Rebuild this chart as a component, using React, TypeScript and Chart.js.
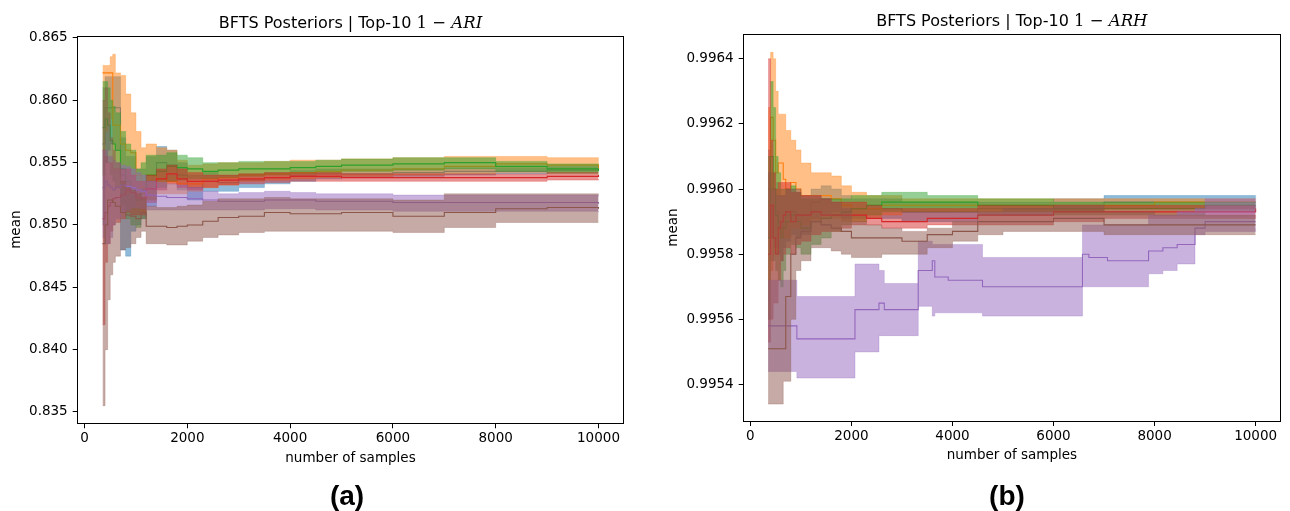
import React, { useEffect, useRef } from "react";
import { Chart, registerables } from "chart.js";
Chart.register(...registerables);

// ---------- Panel (a): 1 - ARI ----------
const SAMPLES_A = [350, 400, 450, 500, 550, 600, 700, 800, 900, 1000, 1100, 1200, 1400, 1600, 1800, 2000, 2300, 2600, 3000, 3500, 4000, 4500, 5000, 6000, 7000, 8000, 9000, 10000];

const A_BLUE_MEAN = [0.8565, 0.8594, 0.8594, 0.8594, 0.8594, 0.8594, 0.8540, 0.8525, 0.8530, 0.8520, 0.8525, 0.8535, 0.8550, 0.8548, 0.8540, 0.8530, 0.8535, 0.8534, 0.8536, 0.8538, 0.8540, 0.8541, 0.8541, 0.8542, 0.8543, 0.8543, 0.8544, 0.8544];
const A_BLUE_HI = [0.8610, 0.8619, 0.8619, 0.8619, 0.8619, 0.8619, 0.8570, 0.8555, 0.8555, 0.8545, 0.8545, 0.8555, 0.8563, 0.8560, 0.8550, 0.8540, 0.8542, 0.8540, 0.8541, 0.8542, 0.8544, 0.8545, 0.8545, 0.8545, 0.8546, 0.8546, 0.8547, 0.8547];
const A_BLUE_LO = [0.8500, 0.8550, 0.8560, 0.8565, 0.8565, 0.8560, 0.8480, 0.8475, 0.8495, 0.8500, 0.8505, 0.8515, 0.8535, 0.8535, 0.8528, 0.8520, 0.8527, 0.8527, 0.8530, 0.8533, 0.8535, 0.8537, 0.8538, 0.8539, 0.8540, 0.8541, 0.8542, 0.8542];

const A_ORANGE_MEAN = [0.8622, 0.8622, 0.8622, 0.8622, 0.8580, 0.8580, 0.8565, 0.8560, 0.8558, 0.8540, 0.8530, 0.8540, 0.8537, 0.8535, 0.8533, 0.8533, 0.8537, 0.8538, 0.8540, 0.8541, 0.8542, 0.8543, 0.8544, 0.8545, 0.8547, 0.8549, 0.8548, 0.8545];
const A_ORANGE_HI = [0.8628, 0.8628, 0.8628, 0.8635, 0.8637, 0.8622, 0.8620, 0.8605, 0.8590, 0.8575, 0.8562, 0.8565, 0.8562, 0.8560, 0.8552, 0.8548, 0.8549, 0.8550, 0.8550, 0.8551, 0.8552, 0.8552, 0.8553, 0.8554, 0.8555, 0.8555, 0.8554, 0.8547];
const A_ORANGE_LO = [0.8560, 0.8575, 0.8580, 0.8585, 0.8545, 0.8545, 0.8530, 0.8525, 0.8530, 0.8515, 0.8510, 0.8520, 0.8525, 0.8525, 0.8525, 0.8527, 0.8530, 0.8532, 0.8535, 0.8536, 0.8537, 0.8538, 0.8539, 0.8540, 0.8541, 0.8542, 0.8542, 0.8542];

const A_GREEN_MEAN = [0.8578, 0.8585, 0.8580, 0.8568, 0.8565, 0.8560, 0.8545, 0.8535, 0.8530, 0.8520, 0.8528, 0.8540, 0.8543, 0.8547, 0.8546, 0.8545, 0.8543, 0.8544, 0.8545, 0.8545, 0.8546, 0.8547, 0.8548, 0.8549, 0.8550, 0.8547, 0.8545, 0.8543];
const A_GREEN_HI = [0.8615, 0.8615, 0.8610, 0.8600, 0.8595, 0.8590, 0.8575, 0.8565, 0.8560, 0.8545, 0.8550, 0.8556, 0.8556, 0.8558, 0.8556, 0.8554, 0.8550, 0.8550, 0.8551, 0.8551, 0.8551, 0.8552, 0.8553, 0.8554, 0.8554, 0.8551, 0.8549, 0.8546];
const A_GREEN_LO = [0.8540, 0.8550, 0.8550, 0.8540, 0.8535, 0.8530, 0.8515, 0.8505, 0.8500, 0.8498, 0.8505, 0.8520, 0.8530, 0.8535, 0.8536, 0.8537, 0.8537, 0.8538, 0.8539, 0.8540, 0.8541, 0.8542, 0.8543, 0.8544, 0.8545, 0.8543, 0.8541, 0.8540];

const A_RED_MEAN = [0.8505, 0.8510, 0.8515, 0.8518, 0.8521, 0.8522, 0.8524, 0.8528, 0.8526, 0.8522, 0.8521, 0.8529, 0.8537, 0.8541, 0.8537, 0.8535, 0.8535, 0.8536, 0.8537, 0.8538, 0.8539, 0.8539, 0.8538, 0.8538, 0.8538, 0.8538, 0.8539, 0.8540];
const A_RED_HI = [0.8560, 0.8555, 0.8550, 0.8550, 0.8545, 0.8545, 0.8545, 0.8545, 0.8540, 0.8535, 0.8535, 0.8540, 0.8545, 0.8548, 0.8545, 0.8542, 0.8540, 0.8540, 0.8541, 0.8542, 0.8542, 0.8542, 0.8541, 0.8541, 0.8541, 0.8541, 0.8542, 0.8542];
const A_RED_LO = [0.8420, 0.8470, 0.8485, 0.8495, 0.8500, 0.8502, 0.8505, 0.8510, 0.8508, 0.8508, 0.8508, 0.8518, 0.8528, 0.8533, 0.8530, 0.8528, 0.8530, 0.8532, 0.8533, 0.8534, 0.8535, 0.8535, 0.8535, 0.8535, 0.8535, 0.8535, 0.8536, 0.8537];

const A_PURPLE_MEAN = [0.8530, 0.8535, 0.8532, 0.8530, 0.8528, 0.8530, 0.8532, 0.8531, 0.8530, 0.8528, 0.8527, 0.8524, 0.8523, 0.8522, 0.8522, 0.8521, 0.8520, 0.8519, 0.8519, 0.8520, 0.8520, 0.8519, 0.8519, 0.8518, 0.8518, 0.8518, 0.8518, 0.8517];
const A_PURPLE_HI = [0.8560, 0.8560, 0.8555, 0.8555, 0.8552, 0.8550, 0.8548, 0.8547, 0.8545, 0.8542, 0.8540, 0.8535, 0.8534, 0.8533, 0.8532, 0.8530, 0.8527, 0.8525, 0.8526, 0.8527, 0.8526, 0.8525, 0.8525, 0.8524, 0.8524, 0.8524, 0.8524, 0.8523];
const A_PURPLE_LO = [0.8490, 0.8485, 0.8485, 0.8490, 0.8500, 0.8505, 0.8510, 0.8512, 0.8514, 0.8514, 0.8513, 0.8512, 0.8512, 0.8512, 0.8512, 0.8512, 0.8512, 0.8512, 0.8512, 0.8513, 0.8513, 0.8512, 0.8512, 0.8511, 0.8511, 0.8511, 0.8511, 0.8510];

const A_BROWN_MEAN = [0.8485, 0.8500, 0.8520, 0.8520, 0.8518, 0.8515, 0.8510, 0.8508, 0.8507, 0.8505, 0.8510, 0.8499, 0.8499, 0.8498, 0.8499, 0.8500, 0.8503, 0.8506, 0.8507, 0.8510, 0.8509, 0.8509, 0.8510, 0.8507, 0.8510, 0.8513, 0.8514, 0.8513];
const A_BROWN_HI = [0.8600, 0.8610, 0.8590, 0.8570, 0.8560, 0.8550, 0.8535, 0.8530, 0.8528, 0.8525, 0.8522, 0.8515, 0.8514, 0.8514, 0.8515, 0.8516, 0.8519, 0.8521, 0.8521, 0.8522, 0.8521, 0.8521, 0.8521, 0.8520, 0.8525, 0.8525, 0.8525, 0.8524];
const A_BROWN_LO = [0.8355, 0.8400, 0.8440, 0.8460, 0.8470, 0.8475, 0.8480, 0.8482, 0.8485, 0.8490, 0.8495, 0.8485, 0.8485, 0.8484, 0.8484, 0.8487, 0.8490, 0.8492, 0.8494, 0.8495, 0.8495, 0.8495, 0.8495, 0.8494, 0.8498, 0.8502, 0.8502, 0.8502];

const A_Y_TICKS = [0.835, 0.84, 0.845, 0.85, 0.855, 0.86, 0.865];

// ---------- Panel (b): 1 - ARH ----------
const SAMPLES_B = [350, 400, 450, 500, 550, 600, 650, 700, 800, 900, 1000, 1200, 1400, 1600, 1800, 2000, 2300, 2600, 3000, 3500, 4000, 4500, 5000, 6000, 7000, 8000, 9000, 10000];

const B_BLUE_MEAN = [0.99600, 0.99590, 0.99595, 0.99593, 0.99590, 0.99588, 0.99590, 0.99592, 0.99593, 0.99592, 0.99592, 0.99596, 0.99597, 0.99597, 0.99595, 0.99594, 0.99594, 0.99594, 0.99593, 0.99593, 0.99593, 0.99594, 0.99594, 0.99595, 0.99596, 0.99596, 0.99596, 0.99596];
const B_BLUE_HI = [0.99612, 0.99605, 0.99605, 0.99602, 0.99600, 0.99598, 0.99598, 0.99600, 0.99600, 0.99599, 0.99598, 0.99600, 0.99601, 0.99600, 0.99598, 0.99597, 0.99597, 0.99597, 0.99596, 0.99596, 0.99596, 0.99596, 0.99596, 0.99597, 0.99598, 0.99598, 0.99598, 0.99597];
const B_BLUE_LO = [0.99585, 0.99578, 0.99582, 0.99582, 0.99580, 0.99578, 0.99582, 0.99584, 0.99586, 0.99585, 0.99586, 0.99591, 0.99592, 0.99593, 0.99591, 0.99591, 0.99591, 0.99591, 0.99590, 0.99590, 0.99590, 0.99592, 0.99592, 0.99593, 0.99594, 0.99594, 0.99594, 0.99595];

const B_ORANGE_MEAN = [0.99595, 0.99622, 0.99615, 0.99605, 0.99608, 0.99608, 0.99603, 0.99600, 0.99602, 0.99600, 0.99598, 0.99598, 0.99598, 0.99597, 0.99595, 0.99594, 0.99594, 0.99595, 0.99595, 0.99595, 0.99595, 0.99595, 0.99595, 0.99595, 0.99595, 0.99596, 0.99596, 0.99596];
const B_ORANGE_HI = [0.99625, 0.99642, 0.99640, 0.99630, 0.99623, 0.99623, 0.99623, 0.99618, 0.99615, 0.99612, 0.99608, 0.99605, 0.99605, 0.99604, 0.99601, 0.99599, 0.99598, 0.99598, 0.99597, 0.99597, 0.99597, 0.99597, 0.99597, 0.99597, 0.99597, 0.99597, 0.99597, 0.99597];
const B_ORANGE_LO = [0.99560, 0.99575, 0.99580, 0.99580, 0.99585, 0.99585, 0.99585, 0.99585, 0.99588, 0.99588, 0.99589, 0.99590, 0.99591, 0.99591, 0.99590, 0.99590, 0.99591, 0.99592, 0.99593, 0.99593, 0.99593, 0.99593, 0.99593, 0.99593, 0.99594, 0.99594, 0.99594, 0.99594];

const B_GREEN_MEAN = [0.99585, 0.99610, 0.99600, 0.99592, 0.99588, 0.99585, 0.99588, 0.99590, 0.99592, 0.99590, 0.99588, 0.99590, 0.99591, 0.99592, 0.99593, 0.99594, 0.99595, 0.99596, 0.99596, 0.99596, 0.99596, 0.99595, 0.99595, 0.99594, 0.99594, 0.99594, 0.99595, 0.99595];
const B_GREEN_HI = [0.99610, 0.99633, 0.99625, 0.99610, 0.99605, 0.99600, 0.99600, 0.99600, 0.99601, 0.99599, 0.99597, 0.99597, 0.99597, 0.99597, 0.99597, 0.99598, 0.99598, 0.99599, 0.99599, 0.99598, 0.99598, 0.99597, 0.99597, 0.99596, 0.99596, 0.99596, 0.99596, 0.99596];
const B_GREEN_LO = [0.99560, 0.99585, 0.99578, 0.99575, 0.99572, 0.99570, 0.99575, 0.99580, 0.99583, 0.99582, 0.99580, 0.99583, 0.99585, 0.99587, 0.99589, 0.99590, 0.99592, 0.99593, 0.99593, 0.99593, 0.99593, 0.99593, 0.99593, 0.99592, 0.99592, 0.99592, 0.99593, 0.99593];

const B_RED_MEAN = [0.99580, 0.99595, 0.99585, 0.99580, 0.99588, 0.99590, 0.99592, 0.99593, 0.99590, 0.99592, 0.99592, 0.99593, 0.99592, 0.99592, 0.99592, 0.99592, 0.99591, 0.99590, 0.99590, 0.99591, 0.99591, 0.99592, 0.99592, 0.99593, 0.99593, 0.99593, 0.99593, 0.99594];
const B_RED_HI = [0.99640, 0.99615, 0.99605, 0.99600, 0.99602, 0.99602, 0.99602, 0.99602, 0.99599, 0.99599, 0.99598, 0.99598, 0.99597, 0.99596, 0.99596, 0.99596, 0.99595, 0.99594, 0.99594, 0.99594, 0.99594, 0.99595, 0.99595, 0.99595, 0.99595, 0.99595, 0.99595, 0.99595];
const B_RED_LO = [0.99553, 0.99560, 0.99565, 0.99565, 0.99572, 0.99578, 0.99580, 0.99582, 0.99580, 0.99583, 0.99584, 0.99586, 0.99587, 0.99587, 0.99588, 0.99589, 0.99589, 0.99588, 0.99588, 0.99589, 0.99589, 0.99589, 0.99589, 0.99590, 0.99591, 0.99591, 0.99591, 0.99592];

const B_BROWN_MEAN = [0.99551, 0.99551, 0.99551, 0.99551, 0.99551, 0.99551, 0.99551, 0.99567, 0.99580, 0.99585, 0.99587, 0.99590, 0.99589, 0.99588, 0.99587, 0.99585, 0.99585, 0.99585, 0.99584, 0.99586, 0.99587, 0.99590, 0.99590, 0.99591, 0.99589, 0.99589, 0.99589, 0.99589];
const B_BROWN_HI = [0.99605, 0.99600, 0.99600, 0.99598, 0.99598, 0.99598, 0.99598, 0.99600, 0.99600, 0.99600, 0.99598, 0.99598, 0.99597, 0.99596, 0.99594, 0.99590, 0.99589, 0.99588, 0.99587, 0.99588, 0.99590, 0.99593, 0.99594, 0.99595, 0.99593, 0.99592, 0.99592, 0.99592];
const B_BROWN_LO = [0.99534, 0.99534, 0.99534, 0.99534, 0.99534, 0.99534, 0.99541, 0.99541, 0.99560, 0.99575, 0.99578, 0.99582, 0.99582, 0.99581, 0.99580, 0.99579, 0.99579, 0.99580, 0.99580, 0.99582, 0.99584, 0.99586, 0.99587, 0.99587, 0.99586, 0.99586, 0.99586, 0.99586];

const B_PURPLE_SAMPLES = [350, 920, 2070, 2545, 2650, 3322, 3400, 3600, 3650, 3915, 4594, 6573, 6700, 7068, 7881, 8164, 8447, 8800, 9000, 10000];
const B_PURPLE_MEAN = [0.99558, 0.99554, 0.99563, 0.99565, 0.99563, 0.99575, 0.99575, 0.99578, 0.99573, 0.99572, 0.99570, 0.99580, 0.99579, 0.99578, 0.99581, 0.99582, 0.99583, 0.99588, 0.99590, 0.99590];
const B_PURPLE_HI = [0.99572, 0.99567, 0.99577, 0.99575, 0.99571, 0.99584, 0.99584, 0.99583, 0.99583, 0.99583, 0.99579, 0.99589, 0.99589, 0.99589, 0.99592, 0.99592, 0.99593, 0.99594, 0.99597, 0.99593];
const B_PURPLE_LO = [0.99544, 0.99542, 0.99550, 0.99555, 0.99555, 0.99564, 0.99564, 0.99561, 0.99562, 0.99562, 0.99561, 0.99570, 0.99570, 0.99570, 0.99574, 0.99575, 0.99577, 0.99586, 0.99587, 0.99588];

const B_Y_TICKS = [0.9954, 0.9956, 0.9958, 0.996, 0.9962, 0.9964];

const X_TICKS = [0, 2000, 4000, 6000, 8000, 10000];

const BLUE = "#1f77b4";
const ORANGE = "#ff7f0e";
const GREEN = "#2ca02c";
const RED = "#d62728";
const PURPLE = "#9467bd";
const BROWN = "#8c564b";

function rgba(hex: string, a: number) {
  const n = parseInt(hex.slice(1), 16);
  return `rgba(${(n >> 16) & 255},${(n >> 8) & 255},${n & 255},${a})`;
}

type Series = { color: string; x: number[]; mean: number[]; hi: number[]; lo: number[] };

function buildDatasets(series: Series[]) {
  const ds: any[] = [];
  for (let k = series.length - 1; k >= 0; k--) {
    const s = series[k];
    const pts = (arr: number[]) => s.x.map((x, i) => ({ x, y: arr[i] }));
    ds.push({ data: pts(s.mean), borderColor: s.color, borderWidth: 1.1, pointRadius: 0, fill: false, stepped: true });
    ds.push({ data: pts(s.hi), borderColor: rgba(s.color, 0.4), borderWidth: 0.7, pointRadius: 0, fill: false, stepped: true });
    ds.push({ data: pts(s.lo), borderColor: rgba(s.color, 0.4), borderWidth: 0.7, pointRadius: 0, fill: "-1", backgroundColor: rgba(s.color, 0.5), stepped: true });
  }
  return ds;
}

const FONT = "'DejaVu Sans', sans-serif";

type PanelSpec = {
  series: Series[];
  yMin: number; yMax: number; yTicks: number[]; decimals: number;
  left: number; right: number; top: number; bottom: number; // chart area in canvas px
  yTitleX: number; xTitleY: number;
  titleMath: string;
};

const W = 645;
const H = 511;

function makeConfig(p: PanelSpec): any {
  const tickFont = { family: FONT, size: 13.5 };
  const lh = 13.5 * 1.2;
  const framePlugin = {
    id: "frame",
    afterDatasetsDraw(chart: any) {
      const { ctx, chartArea: a } = chart;
      ctx.save();
      ctx.strokeStyle = "#000";
      ctx.lineWidth = 1;
      const l = Math.floor(a.left) + 0.5, t = Math.floor(a.top) + 0.5;
      const r = Math.floor(a.right) + 0.5, b = Math.floor(a.bottom) + 0.5;
      ctx.strokeRect(l, t, r - l, b - t);
      ctx.restore();
    },
    afterDraw(chart: any) {
      const { ctx, chartArea: a } = chart;
      ctx.save();
      ctx.fillStyle = "#000";
      ctx.textBaseline = "alphabetic";
      const f1 = `16px ${FONT}`;
      const f2 = `16.5px 'DejaVu Serif', serif`;
      const f3 = `italic 16.5px 'DejaVu Serif', serif`;
      const p1 = "BFTS Posteriors | Top-10 ";
      const p2 = "1 \u2212 ";
      const p3 = p.titleMath;
      ctx.font = f1; const w1 = ctx.measureText(p1).width;
      ctx.font = f2; const w2 = ctx.measureText(p2).width;
      ctx.font = f3; const w3 = ctx.measureText(p3).width;
      let x = (a.left + a.right) / 2 - (w1 + w2 + w3) / 2;
      const y = a.top - 8.3;
      ctx.textAlign = "left";
      ctx.font = f1; ctx.fillText(p1, x, y); x += w1;
      ctx.font = f2; ctx.fillText(p2, x, y); x += w2;
      ctx.font = f3; ctx.fillText(p3, x, y);
      ctx.restore();
    },
  };
  return {
    type: "line",
    data: { datasets: buildDatasets(p.series) },
    options: {
      responsive: false,
      animation: false,
      devicePixelRatio: 1,
      layout: { padding: { left: 0, right: W - p.right, top: p.top, bottom: 0 } },
      plugins: { legend: { display: false }, tooltip: { enabled: false }, title: { display: false } },
      scales: {
        x: {
          type: "linear",
          min: -132.5,
          max: 10482.5,
          afterBuildTicks: (s: any) => { s.ticks = X_TICKS.map((v) => ({ value: v })); },
          afterFit: (s: any) => { s.height = H - p.bottom; },
          grid: { display: true, drawOnChartArea: false, tickLength: 5, tickColor: "#000", tickWidth: 1 },
          border: { display: false },
          ticks: { font: tickFont, color: "#000", padding: 2, maxRotation: 0, autoSkip: false, callback: (v: any) => String(v) },
          title: { display: true, text: "number of samples", font: tickFont, color: "#000", padding: { top: 0, bottom: H - p.xTitleY - lh / 2 } },
        },
        y: {
          type: "linear",
          min: p.yMin,
          max: p.yMax,
          afterBuildTicks: (s: any) => { s.ticks = p.yTicks.map((v) => ({ value: v })); },
          afterFit: (s: any) => { s.width = p.left; },
          grid: { display: true, drawOnChartArea: false, tickLength: 5, tickColor: "#000", tickWidth: 1 },
          border: { display: false },
          ticks: { font: tickFont, color: "#000", padding: 5, autoSkip: false, callback: (v: any) => Number(v).toFixed(p.decimals) },
          title: { display: true, text: "mean", font: tickFont, color: "#000", padding: { top: p.yTitleX - lh / 2, bottom: 0 } },
        },
      },
    },
    plugins: [framePlugin],
  };
}

const PANEL_A: PanelSpec = {
  series: [
    { color: BLUE, x: SAMPLES_A, mean: A_BLUE_MEAN, hi: A_BLUE_HI, lo: A_BLUE_LO },
    { color: ORANGE, x: SAMPLES_A, mean: A_ORANGE_MEAN, hi: A_ORANGE_HI, lo: A_ORANGE_LO },
    { color: GREEN, x: SAMPLES_A, mean: A_GREEN_MEAN, hi: A_GREEN_HI, lo: A_GREEN_LO },
    { color: RED, x: SAMPLES_A, mean: A_RED_MEAN, hi: A_RED_HI, lo: A_RED_LO },
    { color: PURPLE, x: SAMPLES_A, mean: A_PURPLE_MEAN, hi: A_PURPLE_HI, lo: A_PURPLE_LO },
    { color: BROWN, x: SAMPLES_A, mean: A_BROWN_MEAN, hi: A_BROWN_HI, lo: A_BROWN_LO },
  ],
  yMin: 0.83409, yMax: 0.86516, yTicks: A_Y_TICKS, decimals: 3,
  left: 77.7, right: 623.3, top: 36, bottom: 423.3,
  yTitleX: 16, xTitleY: 458,
  titleMath: "ARI",
};

const PANEL_B: PanelSpec = {
  series: [
    { color: BLUE, x: SAMPLES_B, mean: B_BLUE_MEAN, hi: B_BLUE_HI, lo: B_BLUE_LO },
    { color: ORANGE, x: SAMPLES_B, mean: B_ORANGE_MEAN, hi: B_ORANGE_HI, lo: B_ORANGE_LO },
    { color: GREEN, x: SAMPLES_B, mean: B_GREEN_MEAN, hi: B_GREEN_HI, lo: B_GREEN_LO },
    { color: RED, x: SAMPLES_B, mean: B_RED_MEAN, hi: B_RED_HI, lo: B_RED_LO },
    { color: PURPLE, x: B_PURPLE_SAMPLES, mean: B_PURPLE_MEAN, hi: B_PURPLE_HI, lo: B_PURPLE_LO },
    { color: BROWN, x: SAMPLES_B, mean: B_BROWN_MEAN, hi: B_BROWN_HI, lo: B_BROWN_LO },
  ],
  yMin: 0.995288, yMax: 0.996476, yTicks: B_Y_TICKS, decimals: 4,
  left: 98.7, right: 635, top: 34, bottom: 421,
  yTitleX: 28, xTitleY: 455.7,
  titleMath: "ARH",
};

function Panel({ x, spec }: { x: number; spec: PanelSpec }) {
  const ref = useRef<HTMLCanvasElement>(null);
  useEffect(() => {
    if (!ref.current) return;
    const chart = new Chart(ref.current, makeConfig(spec));
    return () => chart.destroy();
  }, []);
  return (
    <canvas
      ref={ref}
      width={W}
      height={H}
      style={{ position: "absolute", left: x, top: 0, width: W, height: H }}
    />
  );
}

const labelStyle: React.CSSProperties = {
  position: "absolute",
  top: 482,
  transform: "translateX(-50%)",
  fontFamily: "'Liberation Sans', Arial, sans-serif",
  fontWeight: "bold",
  fontSize: 28,
  lineHeight: "28px",
  color: "#000",
  whiteSpace: "nowrap",
};

export default function App() {
  return (
    <div style={{ position: "fixed", left: 0, top: 0, width: 1290, height: 511, background: "#fff", overflow: "hidden" }}>
      <Panel x={0} spec={PANEL_A} />
      <Panel x={645} spec={PANEL_B} />
      <div style={{ ...labelStyle, left: 347 }}>(a)</div>
      <div style={{ ...labelStyle, left: 1007 }}>(b)</div>
    </div>
  );
}
